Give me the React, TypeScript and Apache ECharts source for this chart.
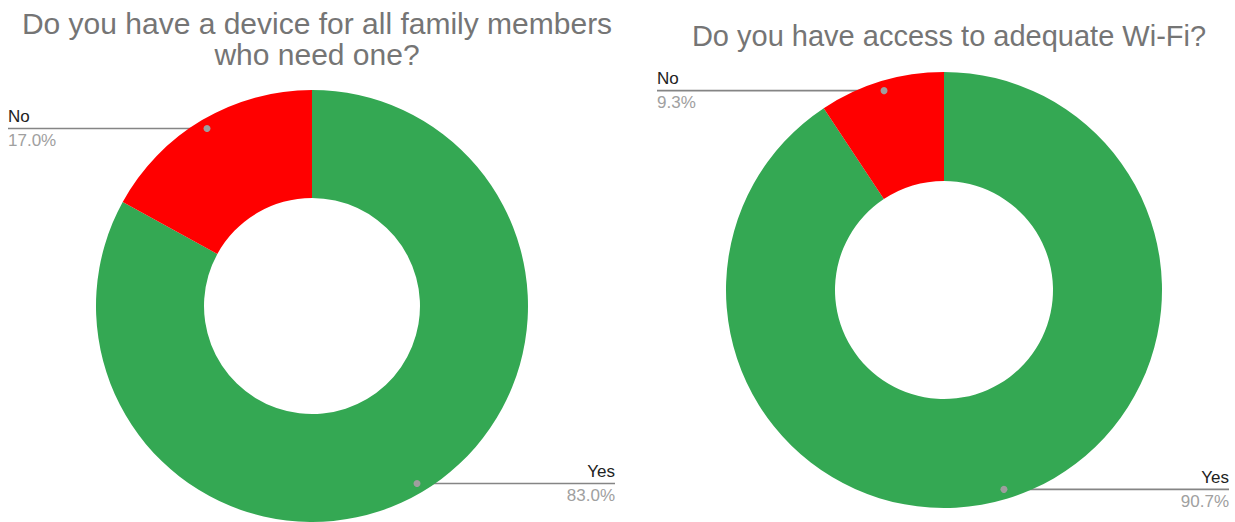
import React, { useEffect, useRef } from "react";
import * as echarts from "echarts";

const categories = ["Yes", "No"];
const deviceValues = [83.0, 17.0];
const wifiValues = [90.7, 9.3];
const titles = [
  "Do you have a device for all family members\nwho need one?",
  "Do you have access to adequate Wi-Fi?",
];

const COLORS = ["#34a853", "#ff0000"];
const FONT = "'Liberation Sans', Arial, sans-serif";

const layouts = [
  { cx: 312, cy: 306, r0: 108, r: 216, titleTop: 3, titleSize: 30, titleLH: 31, leftEdge: 8, rightEdge: 615 },
  { cx: 944, cy: 290, r0: 109, r: 218, titleTop: 16, titleSize: 29, titleLH: 29, leftEdge: 657, rightEdge: 1229 },
];
const seriesValues = [deviceValues, wifiValues];

function dotPoint(k: number, i: number): [number, number] {
  const values = seriesValues[k];
  const c = layouts[k];
  const total = values.reduce((a, b) => a + b, 0);
  let before = 0;
  for (let j = 0; j < i; j++) before += values[j];
  const mid = ((before + values[i] / 2) / total) * Math.PI * 2;
  const rr = c.r * 0.955;
  return [c.cx + rr * Math.sin(mid), c.cy - rr * Math.cos(mid)];
}

export default function App() {
  const ref = useRef<HTMLDivElement>(null);
  useEffect(() => {
    if (!ref.current) return;
    const chart = echarts.init(ref.current, null, { renderer: "svg" });
    const series = seriesValues.map((values, k) => {
      const c = layouts[k];
      return {
        type: "pie",
        center: [c.cx, c.cy],
        radius: [c.r0, c.r],
        startAngle: 90,
        clockwise: true,
        avoidLabelOverlap: false,
        silent: true,
        data: values.map((v, i) => ({
          name: categories[i],
          value: v,
          itemStyle: { color: COLORS[i] },
        })),
        label: {
          show: true,
          position: "outside",
          formatter: (p: any) => {
            const [x] = dotPoint(k, p.dataIndex);
            const s = x < c.cx ? "L" : "R";
            return `{n${s}|${p.name}}\n{p${s}|${Number(p.value).toFixed(1)}%}`;
          },
          rich: {
            nL: { fontSize: 17, color: "#222222", lineHeight: 24, fontFamily: FONT, align: "left" },
            pL: { fontSize: 17, color: "#a0a0a0", lineHeight: 24, fontFamily: FONT, align: "left" },
            nR: { fontSize: 17, color: "#222222", lineHeight: 24, fontFamily: FONT, align: "right" },
            pR: { fontSize: 17, color: "#a0a0a0", lineHeight: 24, fontFamily: FONT, align: "right" },
          },
        },
        labelLine: {
          show: true,
          lineStyle: { color: "#858585", width: 1.6 },
        },
        labelLayout: (params: any) => {
          const i = params.dataIndex;
          const [x, y] = dotPoint(k, i);
          const left = x < c.cx;
          const edge = left ? c.leftEdge : c.rightEdge;
          return {
            x: edge,
            y: y,
            align: left ? "left" : "right",
            verticalAlign: "middle",
            labelLinePoints: [
              [x, y],
              [x, y],
              [edge, y],
            ],
          };
        },
      };
    });
    const graphic: any[] = [];
    seriesValues.forEach((values, k) => {
      values.forEach((_, i) => {
        const [x, y] = dotPoint(k, i);
        graphic.push({
          type: "circle",
          shape: { cx: x, cy: y, r: 3.5 },
          style: { fill: "#9e9e9e" },
          z: 100,
        });
      });
    });
    chart.setOption({
      animation: false,
      backgroundColor: "#ffffff",
      title: titles.map((t, k) => ({
        text: t,
        left: layouts[k].cx,
        top: layouts[k].titleTop,
        textAlign: "center",
        textStyle: {
          fontFamily: FONT,
          fontSize: layouts[k].titleSize,
          fontWeight: "normal",
          color: "#757575",
          lineHeight: layouts[k].titleLH,
        },
      })),
      series,
      graphic,
    } as any);
    return () => chart.dispose();
  }, []);
  return (
    <div
      ref={ref}
      style={{ position: "absolute", left: 0, top: 0, width: 1235, height: 522 }}
    />
  );
}
